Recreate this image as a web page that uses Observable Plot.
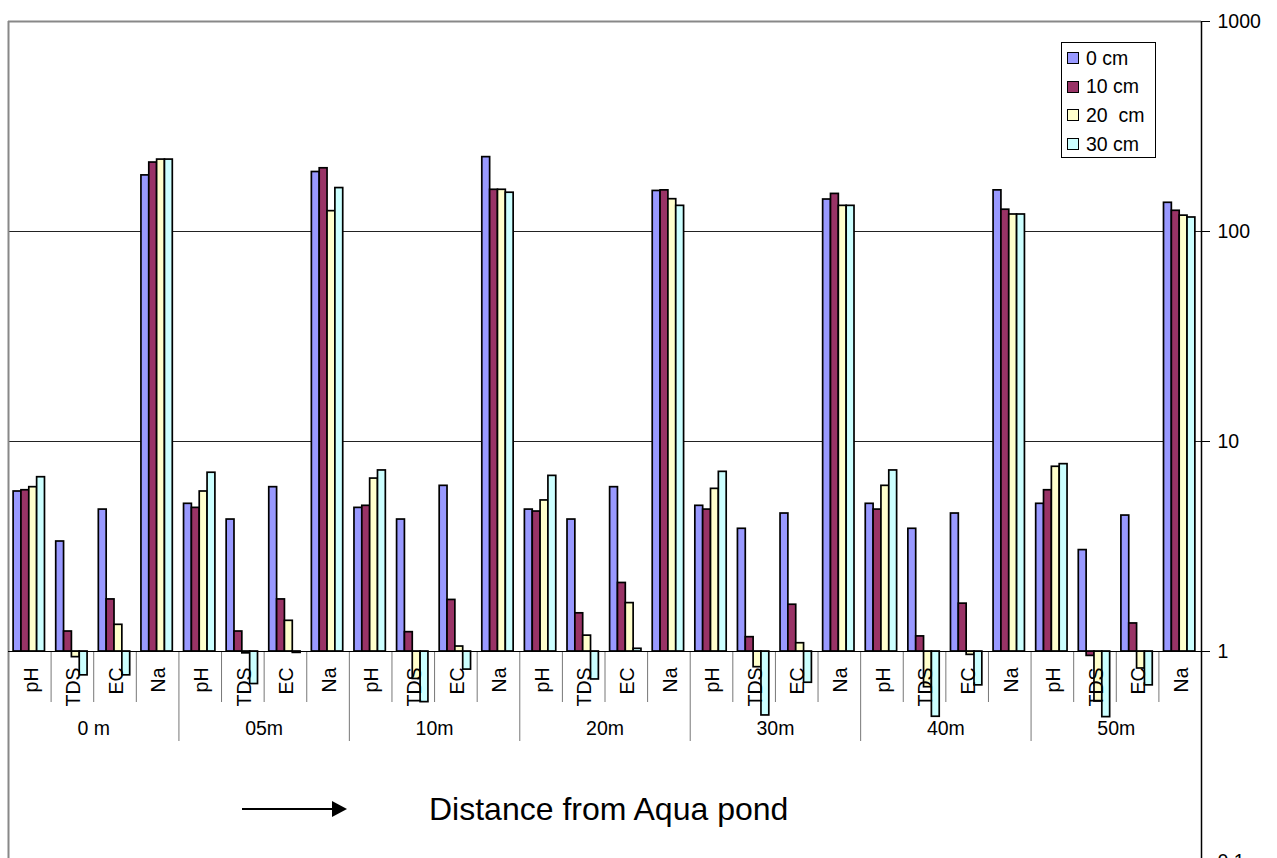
<!DOCTYPE html>
<html>
<head>
<meta charset="utf-8">
<script src="https://cdn.jsdelivr.net/npm/d3@7"></script>
<script src="https://cdn.jsdelivr.net/npm/@observablehq/plot@0.6"></script>
<style>
  html, body { margin: 0; padding: 0; background: #fff; overflow: hidden; }
  body { font-family: "Liberation Sans", Arial, sans-serif; }
  #wrap { position: relative; width: 1277px; height: 858px; overflow: hidden; }
  #legend { position: absolute; left: 1061px; top: 42px; width: 93px; height: 114px;
            border: 1px solid #000; background: #fff; }
  .lrow { position: absolute; left: 0; height: 28.6px; display: flex; align-items: center;
          padding-left: 5px; font-size: 19.5px; white-space: pre; color: #000; }
  .sw { width: 10px; height: 10px; border: 1px solid #000; margin-right: 7px; }
  #note { position: absolute; left: 236px; top: 792px; height: 34px; display: flex; align-items: center; }
  #note span { font-size: 32px; margin-left: 79px; white-space: pre; color: #000; }
</style>
</head>
<body>
<div id="wrap">
  <div id="chart"></div>
  <div id="legend"></div>
  <div id="note">
    <svg width="114" height="20" viewBox="0 0 114 20">
      <line x1="6" y1="10" x2="97" y2="10" stroke="#000" stroke-width="2"></line>
      <polygon points="96,2 111,10 96,18" fill="#000"></polygon>
    </svg>
    <span>Distance from Aqua pond</span>
  </div>
</div>
<script>
// ---- data ----
const groups = ["0 m", "05m", "10m", "20m", "30m", "40m", "50m"];
const params = ["pH", "TDS", "EC", "Na"];
const series = ["0 cm", "10 cm", "20  cm", "30 cm"];
const colors = ["#9999FF", "#993366", "#FFFFCC", "#CCFFFF"];
const yTicks = [0.1, 1, 10, 100, 1000];

// values ordered: group by group, params pH, TDS, EC, Na
const cm0  = [5.78, 3.34, 4.74, 185,   5.05, 4.25, 6.06, 192,   4.83, 4.25, 6.15, 226,
              4.74, 4.25, 6.06, 156,   4.94, 3.84, 4.54, 142,   5.05, 3.84, 4.54, 157,
              5.05, 3.04, 4.44, 137];
const cm10 = [5.86, 1.245, 1.77, 213,  4.83, 1.245, 1.77, 200,  4.94, 1.236, 1.76, 158,
              4.64, 1.52, 2.12, 157,   4.74, 1.17, 1.67, 151,   4.74, 1.18, 1.69, 127,
              5.86, 0.953, 1.36, 125.5];
const cm20 = [6.06, 0.94, 1.34, 220,   5.78, 0.98, 1.40, 125,   6.66, 0.74, 1.056, 158,
              5.24, 1.19, 1.70, 142.5, 5.95, 0.842, 1.095, 132.5, 6.15, 0.676, 0.964, 120.5,
              7.58, 0.578, 0.83, 119];
const cm30 = [6.76, 0.77, 0.77, 220,   7.10, 0.70, 0.985, 161,  7.28, 0.574, 0.82, 153,
              6.86, 0.736, 1.03, 132.5, 7.17, 0.496, 0.71, 132.5, 7.28, 0.489, 0.69, 120.5,
              7.80, 0.487, 0.69, 116.6];

const valuesBySeries = [cm0, cm10, cm20, cm30];

// ---- build table ----
const rows = [];
groups.forEach((g, gi) => params.forEach((p, pi) => series.forEach((s, si) => {
  const cat = gi * params.length + pi;
  rows.push({group: g, param: p, series: s, si, cat, value: valuesBySeries[si][cat]});
})));
const cats = groups.flatMap((g, gi) => params.map((p, pi) => ({group: g, param: p, cat: gi * params.length + pi})));
const nCats = cats.length;
const shortSep = d3.range(1, nCats).filter(i => i % params.length !== 0);
const longSep = d3.range(params.length, nCats, params.length);

const PAD = 0.12, BW = 0.184;
const FS = 19.5;

const chart = Plot.plot({
  width: 1277,
  height: 880,
  marginLeft: 8,
  marginRight: 76,
  marginTop: 21,
  marginBottom: 19,
  style: {fontFamily: "'Liberation Sans', Arial, sans-serif", fontSize: FS + "px", color: "#000", background: "#fff", overflow: "visible"},
  x: {type: "linear", domain: [0, nCats], axis: null},
  y: {type: "log", domain: [0.1, 1000], axis: "right", ticks: yTicks, tickFormat: d => String(d),
      tickSize: 8, tickPadding: 8, label: null},
  color: {domain: series, range: colors},
  marks: [
    Plot.ruleY([10, 100], {stroke: "#222", strokeWidth: 1}),
    Plot.ruleY([1000], {stroke: "#888", strokeWidth: 2}),
    Plot.ruleX([0], {stroke: "#888", strokeWidth: 2}),
    Plot.rect(rows, {
      x1: d => d.cat + PAD + d.si * BW,
      x2: d => d.cat + PAD + (d.si + 1) * BW,
      y1: d => 1,
      y2: "value",
      fill: "series",
      stroke: "#000",
      strokeWidth: 1.7
    }),
    Plot.ruleX(shortSep, {x: d => d, y1: d => 1, y2: d => 1, insetBottom: -51, stroke: "#777", strokeWidth: 1}),
    Plot.ruleX(longSep, {x: d => d, y1: d => 1, y2: d => 1, insetBottom: -90, stroke: "#777", strokeWidth: 1}),
    Plot.ruleY([1], {stroke: "#000", strokeWidth: 1}),
    Plot.ruleX([nCats], {stroke: "#000", strokeWidth: 1.5}),
    Plot.text(cats, {x: d => d.cat + 0.5, y: d => 1, text: "param", rotate: -90, textAnchor: "end",
                     dy: 16, dx: 1.5, fontSize: FS, fill: "#000"}),
    Plot.text(groups, {x: (d, i) => i * params.length + params.length / 2, y: d => 1, text: d => d,
                       dy: 77, fontSize: FS, fill: "#000"})
  ]
});
document.getElementById("chart").appendChild(chart);

// ---- legend ----
const legend = document.getElementById("legend");
series.forEach((s, i) => {
  const row = document.createElement("div");
  row.className = "lrow";
  row.style.top = (1 + i * 28.6) + "px";
  const sw = document.createElement("div");
  sw.className = "sw";
  sw.style.background = colors[i];
  const t = document.createElement("span");
  t.textContent = s;
  row.appendChild(sw);
  row.appendChild(t);
  legend.appendChild(row);
});
</script>
</body>
</html>
